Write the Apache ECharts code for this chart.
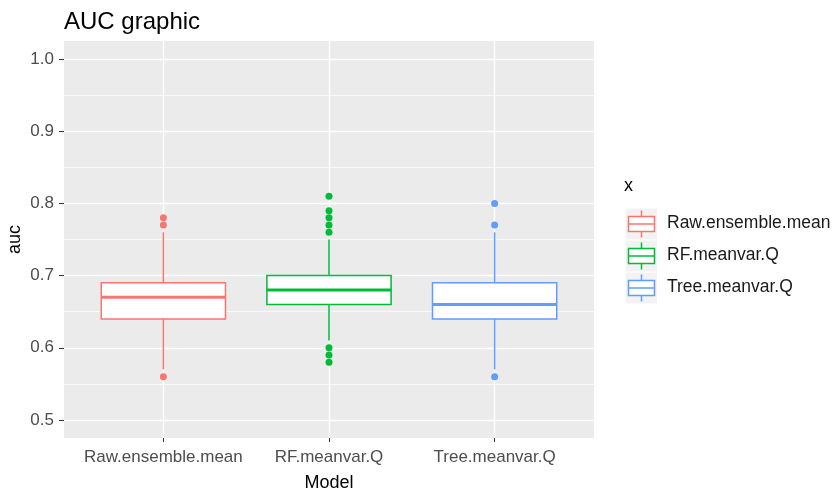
<!DOCTYPE html>
<html>
<head>
<meta charset="utf-8">
<script src="https://cdn.jsdelivr.net/npm/echarts@6/dist/echarts.min.js"></script>
<style>html,body{margin:0;padding:0;background:#fff;}#c{width:835px;height:490px;}</style>
</head>
<body>
<div id="c"></div>
<script>
const categories = ['Raw.ensemble.mean', 'RF.meanvar.Q', 'Tree.meanvar.Q'];
const whiskerLow = [0.57, 0.61, 0.57];
const q1 = [0.64, 0.66, 0.64];
const median = [0.67, 0.68, 0.66];
const q3 = [0.69, 0.70, 0.69];
const whiskerHigh = [0.76, 0.75, 0.76];
const outliersRaw = [0.56, 0.77, 0.78];
const outliersRF = [0.58, 0.59, 0.60, 0.76, 0.77, 0.78, 0.79, 0.81];
const outliersTree = [0.56, 0.77, 0.80];
const yTicks = [0.5, 0.6, 0.7, 0.8, 0.9, 1.0];
const yMinor = [0.55, 0.65, 0.75, 0.85, 0.95];
const xPositions = [1, 2, 3];

const colors = ['#F8766D', '#00BA38', '#619CFF'];
const outliers = [outliersRaw, outliersRF, outliersTree];
const FONT = '"Liberation Sans", Arial, sans-serif';
const BOX_HALF = 0.375; // ggplot default box width 0.75 (in category units)

const chart = echarts.init(document.getElementById('c'), null, {renderer: 'canvas'});

const boxRows = categories.map((c, i) => [xPositions[i], whiskerLow[i], q1[i], median[i], q3[i], whiskerHigh[i], i]);

function renderBox(params, api) {
  const x = api.value(0);
  const ci = api.value(6);
  const col = colors[ci];
  const pLow = api.coord([x, api.value(1)]);
  const pQ1 = api.coord([x, api.value(2)]);
  const pMed = api.coord([x, api.value(3)]);
  const pQ3 = api.coord([x, api.value(4)]);
  const pHigh = api.coord([x, api.value(5)]);
  const left = api.coord([x - BOX_HALF, api.value(2)])[0];
  const right = api.coord([x + BOX_HALF, api.value(2)])[0];
  return {
    type: 'group',
    children: [
      {type: 'line', shape: {x1: pQ3[0], y1: pQ3[1], x2: pHigh[0], y2: pHigh[1]}, style: {stroke: col, lineWidth: 1.5}},
      {type: 'line', shape: {x1: pQ1[0], y1: pQ1[1], x2: pLow[0], y2: pLow[1]}, style: {stroke: col, lineWidth: 1.5}},
      {type: 'rect', shape: {x: left, y: pQ3[1], width: right - left, height: pQ1[1] - pQ3[1]}, style: {fill: '#FFFFFF', stroke: col, lineWidth: 1.5}},
      {type: 'line', shape: {x1: left, y1: pMed[1], x2: right, y2: pMed[1]}, style: {stroke: col, lineWidth: 3}}
    ]
  };
}

const series = [{
  type: 'custom',
  renderItem: renderBox,
  data: boxRows,
  encode: {x: 0, y: [1, 2, 3, 4, 5]},
  z: 2,
  silent: true
}];
outliers.forEach((arr, i) => {
  series.push({
    type: 'scatter',
    symbol: 'circle',
    symbolSize: 7,
    z: 4,
    silent: true,
    itemStyle: {color: colors[i], opacity: 1},
    data: arr.map(v => [xPositions[i], v])
  });
});

// Legend (ggplot style boxplot keys)
const legendGraphics = [{
  type: 'text', left: 624, top: 177,
  style: {text: 'x', font: '18px ' + FONT, fill: '#000'}
}];
categories.forEach((c, i) => {
  const top = 208 + i * 32;
  const col = colors[i];
  legendGraphics.push({
    type: 'group', left: 626, top: top,
    children: [
      {type: 'rect', shape: {x: 0, y: 0, width: 31, height: 31}, style: {fill: '#F2F2F2'}},
      {type: 'line', shape: {x1: 15.5, y1: 2, x2: 15.5, y2: 8}, style: {stroke: col, lineWidth: 1.5}},
      {type: 'line', shape: {x1: 15.5, y1: 23, x2: 15.5, y2: 29}, style: {stroke: col, lineWidth: 1.5}},
      {type: 'rect', shape: {x: 2.5, y: 8, width: 26, height: 15}, style: {fill: '#FFFFFF', stroke: col, lineWidth: 1.5}},
      {type: 'line', shape: {x1: 2.5, y1: 15.5, x2: 28.5, y2: 15.5}, style: {stroke: col, lineWidth: 1.5}}
    ]
  });
  legendGraphics.push({
    type: 'text', left: 667, top: top + 6,
    style: {text: c, font: '17.5px ' + FONT, fill: '#1A1A1A'}
  });
});

const option = {
  animation: false,
  backgroundColor: '#FFFFFF',
  title: {
    text: 'AUC graphic', left: 59, top: 5,
    textStyle: {fontFamily: FONT, fontSize: 24, fontWeight: 'normal', color: '#000'}
  },
  grid: {
    left: 64, right: 241, top: 41, bottom: 52,
    containLabel: false, outerBoundsMode: 'none',
    show: true, backgroundColor: '#EBEBEB', borderWidth: 0
  },
  xAxis: {
    type: 'value', min: 0.4, max: 3.6,
    name: 'Model', nameLocation: 'middle', nameGap: 36,
    nameTextStyle: {fontFamily: FONT, fontSize: 18, color: '#000'},
    axisLine: {show: false},
    axisTick: {show: true, length: 4, customValues: xPositions, lineStyle: {color: '#333333', width: 1}},
    axisLabel: {
      customValues: xPositions, margin: 11,
      fontFamily: FONT, fontSize: 17, color: '#4D4D4D',
      formatter: v => categories[Math.round(v) - 1]
    },
    splitLine: {show: true, lineStyle: {color: '#FFFFFF', width: 1.4}}
  },
  yAxis: [{
    type: 'value', min: 0.475, max: 1.025,
    name: 'auc', nameLocation: 'middle', nameGap: 40, nameRotate: 90, nameMoveOverlap: false,
    nameTextStyle: {fontFamily: FONT, fontSize: 18, color: '#000'},
    axisLine: {show: false},
    axisTick: {show: true, length: 5, customValues: yTicks, lineStyle: {color: '#333333', width: 1}},
    axisLabel: {
      customValues: yTicks, margin: 10,
      fontFamily: FONT, fontSize: 17, color: '#4D4D4D',
      formatter: v => v.toFixed(1)
    },
    splitLine: {show: true, lineStyle: {color: '#FFFFFF', width: 1.4}}
  }, {
    type: 'value', min: 0.475, max: 1.025, position: 'left',
    axisLine: {show: false},
    axisTick: {show: false, customValues: yMinor},
    axisLabel: {show: false, customValues: yMinor},
    splitLine: {show: true, lineStyle: {color: '#FFFFFF', width: 0.7}}
  }],
  graphic: legendGraphics,
  series: series
};
chart.setOption(option);
</script>
</body>
</html>
